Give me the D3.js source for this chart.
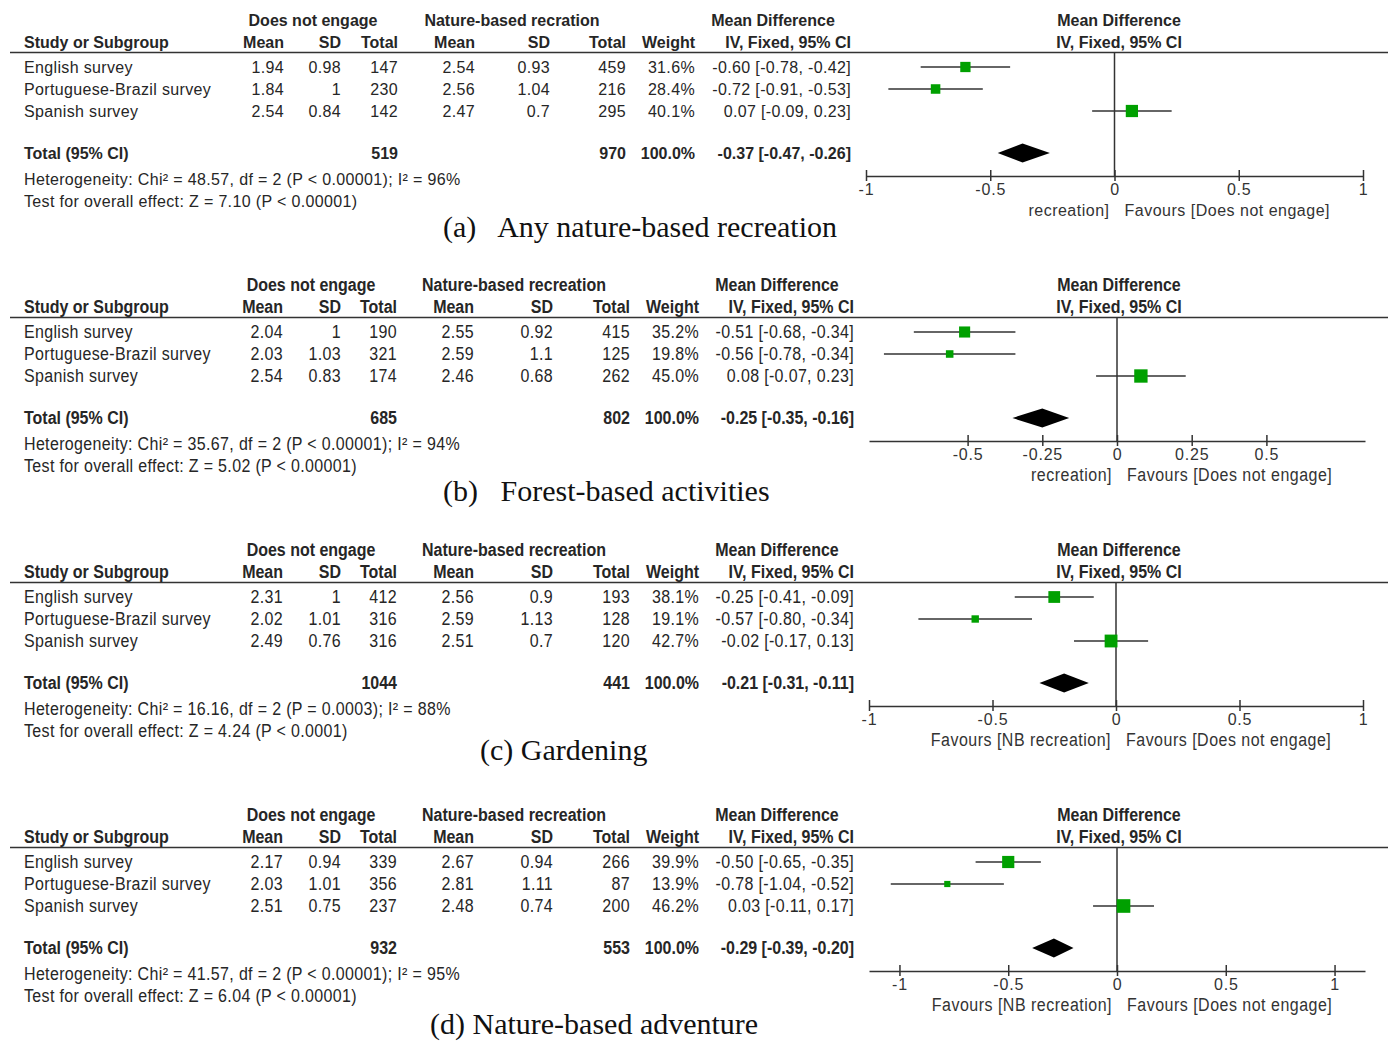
<!DOCTYPE html>
<html><head><meta charset="utf-8">
<script src="https://cdn.jsdelivr.net/npm/d3@7"></script>
<style>body{margin:0;background:#fff}</style>
</head><body><svg id="c" width="1391" height="1042"></svg>
<script>
// ---------------- DATA ----------------
const studies = ["English survey", "Portuguese-Brazil survey", "Spanish survey"];
const dneMean  = [[1.94, 1.84, 2.54], [2.04, 2.03, 2.54], [2.31, 2.02, 2.49], [2.17, 2.03, 2.51]];
const dneSD    = [[0.98, 1, 0.84], [1, 1.03, 0.83], [1, 1.01, 0.76], [0.94, 1.01, 0.75]];
const dneTotal = [[147, 230, 142], [190, 321, 174], [412, 316, 316], [339, 356, 237]];
const nbMean   = [[2.54, 2.56, 2.47], [2.55, 2.59, 2.46], [2.56, 2.59, 2.51], [2.67, 2.81, 2.48]];
const nbSD     = [[0.93, 1.04, 0.7], [0.92, 1.1, 0.68], [0.9, 1.13, 0.7], [0.94, 1.11, 0.74]];
const nbTotal  = [[459, 216, 295], [415, 125, 262], [193, 128, 120], [266, 87, 200]];
const weights  = [[31.6, 28.4, 40.1], [35.2, 19.8, 45.0], [38.1, 19.1, 42.7], [39.9, 13.9, 46.2]];
const md       = [[-0.60, -0.72, 0.07], [-0.51, -0.56, 0.08], [-0.25, -0.57, -0.02], [-0.50, -0.78, 0.03]];
const mdLo     = [[-0.78, -0.91, -0.09], [-0.68, -0.78, -0.07], [-0.41, -0.80, -0.17], [-0.65, -1.04, -0.11]];
const mdHi     = [[-0.42, -0.53, 0.23], [-0.34, -0.34, 0.23], [-0.09, -0.34, 0.13], [-0.35, -0.52, 0.17]];
const totalDne = [519, 685, 1044, 932];
const totalNb  = [970, 802, 441, 553];
const totalMd  = [-0.37, -0.25, -0.21, -0.29];
const totalLo  = [-0.47, -0.35, -0.31, -0.39];
const totalHi  = [-0.26, -0.16, -0.11, -0.20];
const heterogeneity = [
  "Heterogeneity: Chi\u00b2 = 48.57, df = 2 (P < 0.00001); I\u00b2 = 96%",
  "Heterogeneity: Chi\u00b2 = 35.67, df = 2 (P < 0.00001); I\u00b2 = 94%",
  "Heterogeneity: Chi\u00b2 = 16.16, df = 2 (P = 0.0003); I\u00b2 = 88%",
  "Heterogeneity: Chi\u00b2 = 41.57, df = 2 (P < 0.00001); I\u00b2 = 95%"
];
const overallEffect = [
  "Test for overall effect: Z = 7.10 (P < 0.00001)",
  "Test for overall effect: Z = 5.02 (P < 0.00001)",
  "Test for overall effect: Z = 4.24 (P < 0.0001)",
  "Test for overall effect: Z = 6.04 (P < 0.00001)"
];
const captions = [
  "(a)\u00a0\u00a0 Any nature-based recreation",
  "(b)\u00a0\u00a0 Forest-based activities",
  "(c) Gardening",
  "(d) Nature-based adventure"
];
const groupHeaders = ["Does not engage", ["Nature-based recration", "Nature-based recreation", "Nature-based recreation", "Nature-based recreation"], "Mean Difference"];
const colHeaders = ["Study or Subgroup", "Mean", "SD", "Total", "Mean", "SD", "Total", "Weight", "IV, Fixed, 95% CI"];
const plotHeaders = ["Mean Difference", "IV, Fixed, 95% CI"];
const totalLabel = "Total (95% CI)";
const axisDomains = [[-1, 1], [-0.83, 0.83], [-1, 1], [-1.14, 1.14]];
const axisTicks = [[-1, -0.5, 0, 0.5, 1], [-0.5, -0.25, 0, 0.25, 0.5], [-1, -0.5, 0, 0.5, 1], [-1, -0.5, 0, 0.5, 1]];
const favoursLeft = ["recreation]", "recreation]", "Favours [NB recreation]", "Favours [NB recreation]"];
const favoursRight = "Favours [Does not engage]";

// ---------------- LAYOUT ----------------
const panelTop = [0, 265, 530, 795];
const captionY = [227, 491, 750, 1024];
const captionX = [443, 443, 480, 430];
const plotRange = [[866, 1363], [869, 1365], [869, 1363], [869, 1365]];
const colsA = {study: 24, m1: 284, sd1: 341, t1: 398, m2: 475, sd2: 550, t2: 626, w: 695, ci: 851, h1: 313, h2: 512, h3: 773};
const colsB = {study: 24, m1: 283, sd1: 341, t1: 397, m2: 474, sd2: 553, t2: 630, w: 699, ci: 854, h1: 311, h2: 514, h3: 777};
const FONT = "'Liberation Sans', Arial, sans-serif";
const TXT = "#262626";
const LINE = "#333";

const svg = d3.select("#c");
const loc = d3.formatLocale({decimal: ".", thousands: ",", grouping: [3], currency: ["", ""], minus: "-"});
const f2 = loc.format(".2f");
const f1 = loc.format(".1f");
const fmtNum = v => String(v);
const fmtCI = (m, l, h) => `${f2(m)} [${f2(l)}, ${f2(h)}]`;
const sqSize = d3.scaleLinear().domain([0, 50]).range([3, 14.5]);

for (let p = 0; p < 4; p++) {
  const g = svg.append("g").attr("transform", `translate(0,${panelTop[p]})`);
  const c = p === 0 ? colsA : colsB;
  const wide = p === 0;
  const rowY = d3.scaleLinear().domain([0, 2]).range([67, 111]);

  function txt(x, y, s, opt = {}) {
    const t = g.append("text")
      .attr("x", x).attr("y", y).attr("dy", "0.36em")
      .attr("font-family", FONT)
      .attr("font-size", opt.size || 16)
      .attr("font-weight", opt.bold ? "bold" : "normal")
      .attr("fill", opt.fill || TXT)
      .attr("text-anchor", opt.anchor || "start")
      .text(s);
    if (!opt.bold) t.attr("letter-spacing", opt.ls || "0.35px");
    if (!wide) {
      // taller glyph look for panels b-d
      t.attr("transform", `translate(${x},${y}) scale(1,1.1) translate(${-x},${-y})`);
    }
    return t;
  }

  // group headers
  txt(c.h1, 20, groupHeaders[0], {bold: true, anchor: "middle"});
  txt(c.h2, 20, groupHeaders[1][p], {bold: true, anchor: "middle"});
  txt(c.h3, 20, groupHeaders[2], {bold: true, anchor: "middle"});
  // column headers
  const colX = [c.study, c.m1, c.sd1, c.t1, c.m2, c.sd2, c.t2, c.w, c.ci];
  colHeaders.forEach((h, i) => txt(colX[i], 42, h, {bold: true, anchor: i === 0 ? "start" : "end"}));

  // header line
  g.append("line").attr("x1", 10).attr("x2", 1388).attr("y1", 52.5).attr("y2", 52.5)
    .attr("stroke", LINE).attr("stroke-width", 1.5);

  // study rows
  studies.forEach((s, i) => {
    const y = rowY(i);
    txt(c.study, y, s);
    txt(c.m1, y, fmtNum(dneMean[p][i]), {anchor: "end"});
    txt(c.sd1, y, fmtNum(dneSD[p][i]), {anchor: "end"});
    txt(c.t1, y, dneTotal[p][i], {anchor: "end"});
    txt(c.m2, y, fmtNum(nbMean[p][i]), {anchor: "end"});
    txt(c.sd2, y, fmtNum(nbSD[p][i]), {anchor: "end"});
    txt(c.t2, y, nbTotal[p][i], {anchor: "end"});
    txt(c.w, y, f1(weights[p][i]) + "%", {anchor: "end"});
    txt(c.ci, y, fmtCI(md[p][i], mdLo[p][i], mdHi[p][i]), {anchor: "end"});
  });

  // total row
  txt(c.study, 153, totalLabel, {bold: true});
  txt(c.t1, 153, totalDne[p], {bold: true, anchor: "end"});
  txt(c.t2, 153, totalNb[p], {bold: true, anchor: "end"});
  txt(c.w, 153, "100.0%", {bold: true, anchor: "end"});
  txt(c.ci, 153, fmtCI(totalMd[p], totalLo[p], totalHi[p]), {bold: true, anchor: "end"});
  txt(c.study, 179, heterogeneity[p]);
  txt(c.study, 201, overallEffect[p]);

  // ---------- forest plot ----------
  const x = d3.scaleLinear().domain(axisDomains[p]).range(plotRange[p]);
  const axisY = 176;
  const hx = 1119;
  txt(hx, 20, plotHeaders[0], {bold: true, anchor: "middle"});
  txt(hx, 42, plotHeaders[1], {bold: true, anchor: "middle"});

  // zero line
  g.append("line").attr("x1", x(0)).attr("x2", x(0)).attr("y1", 52.5).attr("y2", axisY)
    .attr("stroke", LINE).attr("stroke-width", 1.5);

  // CI lines and squares
  studies.forEach((s, i) => {
    const y = rowY(i);
    g.append("line").attr("x1", x(mdLo[p][i])).attr("x2", x(mdHi[p][i]))
      .attr("y1", y).attr("y2", y).attr("stroke", LINE).attr("stroke-width", 1.5);
    const sz = sqSize(weights[p][i]);
    g.append("rect").attr("x", x(md[p][i]) - sz / 2).attr("y", y - sz / 2)
      .attr("width", sz).attr("height", sz).attr("fill", "#00a000");
  });

  // diamond
  const dy = 153, dh = 9.5;
  g.append("path")
    .attr("d", d3.line()([[x(totalLo[p]), dy], [x(totalMd[p]), dy - dh], [x(totalHi[p]), dy], [x(totalMd[p]), dy + dh]]) + "Z")
    .attr("fill", "#000");

  // axis
  const ag = g.append("g").attr("transform", `translate(0,${axisY})`)
    .call(d3.axisBottom(x).tickValues(axisTicks[p]).tickFormat(d => String(d))
      .tickSizeInner(5).tickSizeOuter(0).tickPadding(3));
  ag.select(".domain").attr("stroke", LINE).attr("stroke-width", 1.5);
  ag.selectAll(".tick line").attr("y1", -6).attr("y2", 5).attr("stroke", LINE).attr("stroke-width", 1.5);
  ag.selectAll(".tick text").attr("font-family", FONT).attr("font-size", 16).attr("fill", "#333")
    .attr("letter-spacing", "0.8px");

  // favours labels
  txt(x(0) - 5, 210, favoursLeft[p], {anchor: "end", fill: "#333", ls: "0.5px"});
  txt(x(0) + 10, 210, favoursRight, {anchor: "start", fill: "#333", ls: "0.5px"});

  // caption
  svg.append("text").attr("x", captionX[p]).attr("y", captionY[p]).attr("dy", "0.34em")
    .attr("font-family", "'Liberation Serif', 'Times New Roman', serif")
    .attr("font-size", 30).attr("fill", "#111")
    .text(captions[p]);
}
</script></body></html>
